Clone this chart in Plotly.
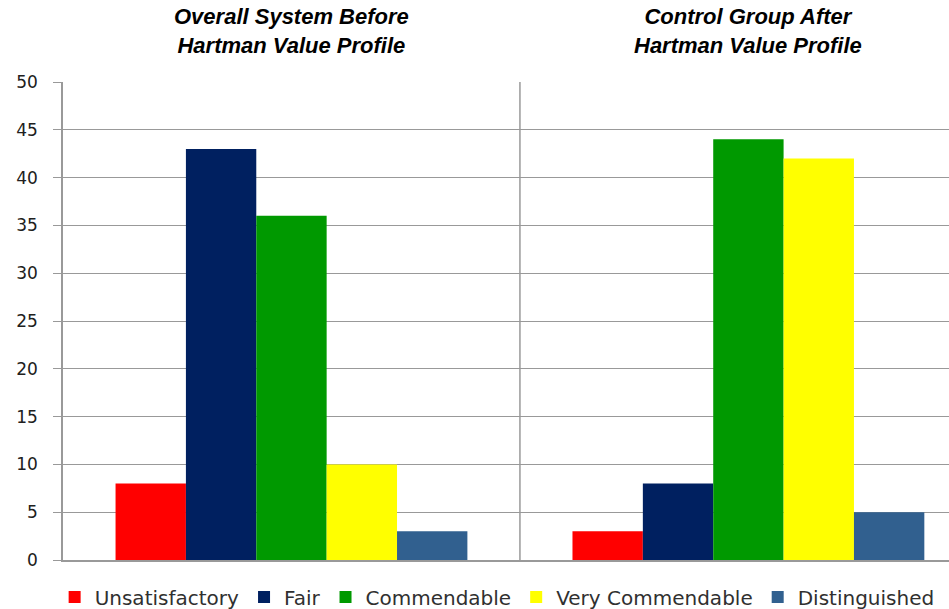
import plotly.graph_objects as go

groups = [0, 1]
group_titles = ["Overall System Before<br>Hartman Value Profile",
                "Control Group After<br>Hartman Value Profile"]
series_names = ["Unsatisfactory", "Fair", "Commendable", "Very Commendable", "Distinguished"]
series_colors = ["#FF0000", "#002060", "#009900", "#FFFF00", "#31608F"]
unsatisfactory = [8, 3]
fair = [43, 8]
commendable = [36, 44]
very_commendable = [10, 42]
distinguished = [3, 5]
values = [unsatisfactory, fair, commendable, very_commendable, distinguished]
y_ticks = [0, 5, 10, 15, 20, 25, 30, 35, 40, 45, 50]

fig = go.Figure()
for name, color, vals in zip(series_names, series_colors, values):
    fig.add_trace(go.Bar(x=groups, y=vals, name=name, marker_color=color,
                         marker_line_width=0))

for g, t in zip(groups, group_titles):
    fig.add_annotation(x=g, xref="x", y=1.107, yref="paper", text="<b><i>" + t + "</i></b>",
                       showarrow=False, yanchor="middle", xanchor="center",
                       font=dict(family="Liberation Sans, Arial", size=22, color="black"))

fig.add_shape(type="line", xref="x", yref="paper", x0=0.5, x1=0.5, y0=0, y1=1,
              line=dict(color="#999999", width=1.5))

fig.update_layout(
    width=949, height=609,
    margin=dict(l=63, r=0, t=82, b=49, autoexpand=False),
    plot_bgcolor="white", paper_bgcolor="white",
    barmode="group", bargap=0.23, bargroupgap=0,
    showlegend=True,
    legend=dict(orientation="h", x=0.49, xanchor="center",
                y=-0.0774, yanchor="middle",
                font=dict(family="DejaVu Sans, Verdana", size=20, color="#303030"),
                itemwidth=30, traceorder="normal"),
    xaxis=dict(range=[-0.5, 1.439], showticklabels=False, showgrid=False,
               showline=True, linecolor="#999999", linewidth=1.5, zeroline=False,
               ticks=""),
    yaxis=dict(range=[0, 50], tickvals=y_ticks, showgrid=True, gridcolor="#999999",
               gridwidth=1, showline=True, linecolor="#999999", linewidth=1.5,
               ticks="outside", ticklen=8, tickcolor="#999999", zeroline=False,
               ticklabelstandoff=12,
               tickfont=dict(family="DejaVu Sans, Verdana", size=17, color="#202020")),
)

fig.write_html("out.html")
